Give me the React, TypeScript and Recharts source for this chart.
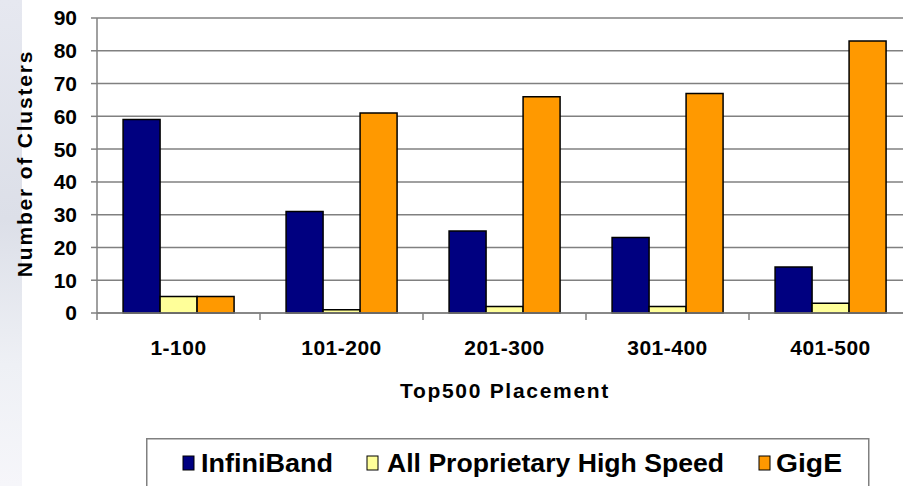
import React from 'react';
import { BarChart, Bar, XAxis, YAxis, CartesianGrid } from 'recharts';

const placements = ['1-100', '101-200', '201-300', '301-400', '401-500'];
const infiniband = [59, 31, 25, 23, 14];
const proprietary = [5, 1, 2, 2, 3];
const gige = [5, 61, 66, 67, 83];
const yTicks = [0, 10, 20, 30, 40, 50, 60, 70, 80, 90];

const series = [
  { key: 'infiniband', label: 'InfiniBand', color: '#000080' },
  { key: 'proprietary', label: 'All Proprietary High Speed', color: '#FFFF99' },
  { key: 'gige', label: 'GigE', color: '#FF9900' },
];

// legend placement inside the box: square x, text x, text width
const legendSlots = [
  { sq: 37, tx: 55, w: 132 },
  { sq: 221, tx: 241, w: 337 },
  { sq: 613, tx: 630, w: 66 },
];

const data = placements.map((p, i) => ({
  placement: p,
  infiniband: infiniband[i],
  proprietary: proprietary[i],
  gige: gige[i],
}));

const labelFont = '"Liberation Sans", Arial, sans-serif';

function PlacementTick(props: any) {
  const { x, y, payload } = props;
  const half = payload && payload.offset ? payload.offset : 0;
  return (
    <g>
      <line x1={x - half} y1={y} x2={x - half} y2={y + 7} stroke="#808080" strokeWidth={1.5} />
      <text
        x={x}
        y={y + 42}
        textAnchor="middle"
        fill="#000"
        fontSize={21}
        fontWeight="bold"
        fontFamily={labelFont}
        letterSpacing={0.5}
      >
        {payload.value}
      </text>
    </g>
  );
}

function ClustersLabel(props: any) {
  const vb = props.viewBox || {};
  const cy = vb.y + vb.height / 2 - 2;
  return (
    <text
      x={32}
      y={cy}
      transform={`rotate(-90 32 ${cy})`}
      textAnchor="middle"
      fill="#000"
      fontSize={21}
      fontWeight="bold"
      fontFamily={labelFont}
      letterSpacing={1.8}
    >
      Number of Clusters
    </text>
  );
}

function PlacementLabel(props: any) {
  const vb = props.viewBox || {};
  return (
    <text
      x={505}
      y={vb.y + 85}
      textAnchor="middle"
      fill="#000"
      fontSize={21}
      fontWeight="bold"
      fontFamily={labelFont}
      letterSpacing={1.7}
    >
      Top500 Placement
    </text>
  );
}

function LegendBox() {
  return (
    <svg
      width={724}
      height={50}
      style={{ position: 'absolute', left: 146, top: 438, display: 'block' }}
    >
      <rect x={0.75} y={0.75} width={722} height={60} fill="#fff" stroke="#808080" strokeWidth={1.5} />
      {series.map((s, i) => {
        const slot = legendSlots[i];
        return (
          <g key={s.key}>
            <rect x={slot.sq} y={18} width={11} height={14} fill={s.color} stroke="#000" strokeWidth={1} />
            <text
              x={slot.tx}
              y={34}
              fill="#000"
              fontSize={25}
              fontWeight="bold"
              fontFamily={labelFont}
              textLength={slot.w}
              lengthAdjust="spacingAndGlyphs"
            >
              {s.label}
            </text>
          </g>
        );
      })}
    </svg>
  );
}

export default function App() {
  return (
    <>
      <style>{'html, body { margin: 0; padding: 0; overflow: hidden; background: #fff; }'}</style>
      <div
        style={{
          position: 'relative',
          width: 903,
          height: 486,
          overflow: 'hidden',
          background: '#fff',
        }}
      >
        <div
          style={{
            position: 'absolute',
            left: 0,
            top: 0,
            width: 22,
            height: 486,
            background: 'linear-gradient(180deg, #e6e8f0 0%, #dcdfe8 45%, #eef0f5 75%, #f6f6fa 100%)',
          }}
        />
        <div style={{ position: 'absolute', left: 0, top: 0 }}>
          <BarChart
            width={903}
            height={486}
            data={data}
            margin={{ top: 18, right: 0, bottom: 0, left: 0 }}
            barCategoryGap="16%"
            barGap={0}
          >
            <CartesianGrid vertical={false} stroke="#808080" strokeWidth={1.5} />
            <XAxis
              dataKey="placement"
              height={173}
              padding={{ left: 0, right: -9 }}
              stroke="#808080"
              strokeWidth={1.5}
              tickLine={false}
              tickSize={0}
              tickMargin={0}
              tick={<PlacementTick />}
              interval={0}
              label={<PlacementLabel />}
            />
            <YAxis
              width={97}
              domain={[0, 90]}
              ticks={yTicks}
              interval={0}
              stroke="#808080"
              strokeWidth={1.5}
              tickSize={6}
              tickMargin={14}
              tick={{ fill: '#000', fontSize: 21, fontWeight: 'bold', fontFamily: labelFont }}
              label={<ClustersLabel />}
            />
            {series.map((s) => (
              <Bar
                key={s.key}
                dataKey={s.key}
                fill={s.color}
                stroke="#000"
                strokeWidth={1.5}
                isAnimationActive={false}
              />
            ))}
          </BarChart>
        </div>
        <LegendBox />
      </div>
    </>
  );
}
